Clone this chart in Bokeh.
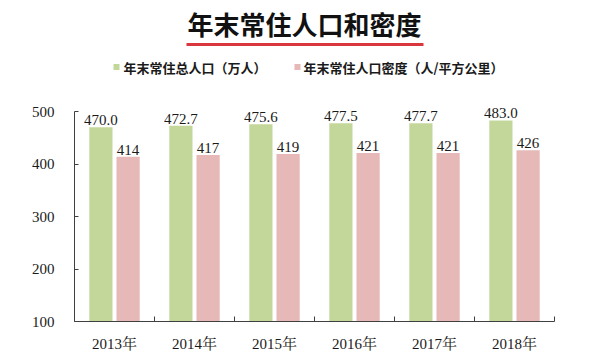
from bokeh.plotting import figure
from bokeh.models import (ColumnDataSource, Range1d, FixedTicker, Label, LabelSet,
                          BoxAnnotation)
from bokeh.transform import dodge
from bokeh.embed import file_html
from bokeh.resources import INLINE

# ---- data ----
years = ["2013年", "2014年", "2015年", "2016年", "2017年", "2018年"]
population = [470.0, 472.7, 475.6, 477.5, 477.7, 483.0]   # 万人
density = [414, 417, 419, 421, 421, 426]                  # 人/平方公里
y_ticks = [100, 200, 300, 400, 500]
title_text = "年末常住人口和密度"
legend_labels = ["年末常住总人口（万人）", "年末常住人口密度（人/平方公里）"]

GREEN = "#c4d79b"
PINK = "#e6b9b8"
SERIF = "Liberation Serif, Noto Serif CJK SC, Noto Sans CJK SC"
CJK = "Noto Sans CJK SC"
W, H = 609, 362

# layout geometry (canvas pixels)
FRAME_L, FRAME_R = 74, 554
Y_BOTTOM_PX, Y_TOP_PX = 321, 111          # where 100 and 500 sit
PX_PER_UNIT = (Y_BOTTOM_PX - Y_TOP_PX) / 400.0
X_PX_PER_CAT = (FRAME_R - FRAME_L) / len(years)
Y_MAX = 100 + Y_BOTTOM_PX / PX_PER_UNIT   # frame top at canvas y = 0


def dx(cx):   # canvas x -> data x
    return (cx - FRAME_L) / X_PX_PER_CAT


def dy(cy):   # canvas y -> data y
    return 100 + (Y_BOTTOM_PX - cy) / PX_PER_UNIT


src = ColumnDataSource(dict(
    xc=[i + 0.5 for i in range(len(years))],
    pop=population,
    den=density,
    pop_txt=["%.1f" % v for v in population],
    den_txt=["%d" % v for v in density],
))

p = figure(width=W, height=H, output_backend="svg", toolbar_location=None,
           x_range=Range1d(0, len(years)), y_range=Range1d(100, Y_MAX),
           min_border_left=FRAME_L, min_border_right=W - FRAME_R, min_border_top=0,
           min_border_bottom=H - Y_BOTTOM_PX)
p.title.visible = False
p.outline_line_color = None
p.xgrid.visible = False
p.ygrid.visible = False

bw = 0.29
off = 0.17
p.vbar(x=dodge("xc", -off), top="pop", bottom=0, width=bw, source=src,
       fill_color=GREEN, line_color=None)
p.vbar(x=dodge("xc", off), top="den", bottom=0, width=bw, source=src,
       fill_color=PINK, line_color=None)

for col, txt, d in (("pop", "pop_txt", -off), ("den", "den_txt", off)):
    p.add_layout(LabelSet(x=dodge("xc", d), y=col, text=txt, source=src,
                          text_align="center", text_baseline="bottom", y_offset=2,
                          text_font=SERIF, text_font_size="15px", text_color="#1a1a1a"))

# title + red underline
p.add_layout(Label(x=dx(304), y=dy(23), text=title_text, text_align="center",
                   text_baseline="middle", text_font=CJK, text_font_size="26px",
                   text_font_style="bold", text_color="#111111"))
p.add_layout(BoxAnnotation(left=dx(186), right=dx(423), top=dy(42.5), bottom=dy(45.5),
                           fill_color="#d9363e", fill_alpha=1, line_color=None))

# legend
for (sq_x, tx_x), color, lab in zip(((113, 123), (294, 303)), (GREEN, PINK), legend_labels):
    p.add_layout(BoxAnnotation(left=dx(sq_x), right=dx(sq_x + 6), top=dy(63.5),
                               bottom=dy(69.5), fill_color=color, fill_alpha=1,
                               line_color=None))
    p.add_layout(Label(x=dx(tx_x), y=dy(66.5), text=lab, text_align="left",
                       text_baseline="middle", text_font=CJK, text_font_size="13px",
                       text_font_style="bold", text_color="#1a1a1a"))

# y axis
ya = p.yaxis[0]
ya.ticker = FixedTicker(ticks=y_ticks, minor_ticks=[])
ya.bounds = (100, 500)
ya.major_tick_in = 4
ya.major_tick_out = 0
ya.minor_tick_in = 0
ya.minor_tick_out = 0
ya.axis_line_color = "#404040"
ya.major_tick_line_color = "#404040"
ya.major_label_standoff = 20
ya.major_label_text_font = SERIF
ya.major_label_text_font_size = "15px"
ya.major_label_text_color = "#1a1a1a"

# x axis
xa = p.xaxis[0]
xa.ticker = FixedTicker(ticks=[i + 0.5 for i in range(len(years))],
                        minor_ticks=list(range(len(years) + 1)))
xa.major_label_overrides = {i + 0.5: y for i, y in enumerate(years)}
xa.major_tick_in = 0
xa.major_tick_out = 0
xa.minor_tick_in = 5
xa.minor_tick_out = 0
xa.axis_line_color = "#404040"
xa.minor_tick_line_color = "#404040"
xa.major_label_standoff = 14
xa.major_label_text_font = SERIF
xa.major_label_text_font_size = "15px"
xa.major_label_text_color = "#1a1a1a"

open("out.html", "w").write(file_html(p, INLINE))
